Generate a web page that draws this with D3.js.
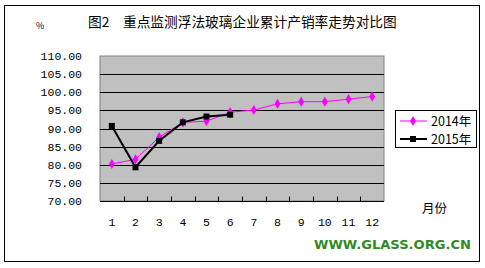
<!DOCTYPE html>
<html>
<head>
<meta charset="utf-8">
<script src="https://d3js.org/d3.v7.min.js"></script>
<style>
  body { margin: 0; background: #fff; }
  svg text { font-family: "Noto Sans CJK SC", "DejaVu Sans", sans-serif; }
</style>
</head>
<body>
<div id="chart"></div>
<script>
    // values
    var months = ["1", "2", "3", "4", "5", "6", "7", "8", "9", "10", "11", "12"];
    var yTicks = [70, 75, 80, 85, 90, 95, 100, 105, 110];
    var rate2014 = [80.2, 81.5, 87.6, 91.7, 92.0, 94.5, 95.1, 96.8, 97.4, 97.4, 98.1, 98.8];
    var rate2015 = [90.7, 79.3, 86.6, 91.7, 93.3, 93.8];
    var seriesNames = ["2014年", "2015年"];

    var width = 485, height = 268;
    var plot = {left: 100, right: 384, top: 56, bottom: 201};

    const svg = d3.select("#chart").append("svg")
        .attr("width", width)
        .attr("height", height);

    // outer frame
    svg.append("rect")
        .attr("x", 4.5).attr("y", 5.5)
        .attr("width", 475).attr("height", 256)
        .attr("fill", "#fff")
        .attr("stroke", "#000");

    var x = d3.scaleBand()
        .domain(months)
        .range([plot.left, plot.right]);

    var y = d3.scaleLinear()
        .domain([70, 110])
        .range([plot.bottom, plot.top]);

    // plot area
    svg.append("rect")
        .attr("x", plot.left).attr("y", plot.top)
        .attr("width", plot.right - plot.left)
        .attr("height", plot.bottom - plot.top)
        .attr("fill", "#c0c0c0")
        .attr("stroke", "#808080");

    // gridlines
    svg.selectAll("line.grid")
        .data(yTicks.slice(1, -1))
        .enter().append("line")
        .attr("x1", plot.left).attr("x2", plot.right)
        .attr("y1", d => Math.round(y(d)) + 0.5)
        .attr("y2", d => Math.round(y(d)) + 0.5)
        .attr("stroke", "#000");

    // y labels
    svg.selectAll("text.ylab")
        .data(yTicks)
        .enter().append("text")
        .attr("x", 82)
        .attr("y", d => y(d) + 4)
        .attr("text-anchor", "end")
        .style("font-family", "'Liberation Mono', monospace")
        .attr("font-size", "11.5px")
        .text(d => d.toFixed(2));

    // x axis with ticks between categories
    const xAxis = svg.append("g")
        .attr("transform", `translate(0,${plot.bottom + 0.5})`);
    xAxis.append("line")
        .attr("x1", plot.left).attr("x2", plot.right)
        .attr("stroke", "#000");
    xAxis.selectAll("line.tick")
        .data(months.slice(1))
        .enter().append("line")
        .attr("x1", d => Math.round(x(d)) + 0.5)
        .attr("x2", d => Math.round(x(d)) + 0.5)
        .attr("y1", -5).attr("y2", 0)
        .attr("stroke", "#000");
    xAxis.selectAll("text")
        .data(months)
        .enter().append("text")
        .attr("x", d => x(d) + x.bandwidth() / 2)
        .attr("y", 24)
        .attr("text-anchor", "middle")
        .style("font-family", "'Liberation Mono', monospace")
        .attr("font-size", "11.5px")
        .text(d => d);

    var cx = (d, i) => x(months[i]) + x.bandwidth() / 2;
    var line = d3.line().x(cx).y(d => y(d));

    // 2014 series
    svg.append("path")
        .datum(rate2014)
        .attr("d", line)
        .attr("fill", "none")
        .attr("stroke", "#ff00ff")
        .attr("stroke-width", 1);
    svg.selectAll("path.m2014")
        .data(rate2014)
        .enter().append("path")
        .attr("d", d3.symbol(d3.symbolDiamond, 30))
        .attr("transform", (d, i) => `translate(${cx(d, i)},${y(d)})`)
        .attr("fill", "#ff00ff");

    // 2015 series
    svg.append("path")
        .datum(rate2015)
        .attr("d", line)
        .attr("fill", "none")
        .attr("stroke", "#000")
        .attr("stroke-width", 2);
    svg.selectAll("rect.m2015")
        .data(rate2015)
        .enter().append("rect")
        .attr("x", (d, i) => cx(d, i) - 3)
        .attr("y", d => y(d) - 3)
        .attr("width", 6).attr("height", 6)
        .attr("fill", "#000");

    // legend
    const legend = svg.append("g");
    legend.append("rect")
        .attr("x", 395.5).attr("y", 110.5)
        .attr("width", 81).attr("height", 37)
        .attr("fill", "#fff")
        .attr("stroke", "#000");
    [121, 139].forEach(function (ly, i) {
        legend.append("line")
            .attr("x1", 400).attr("x2", 427)
            .attr("y1", ly).attr("y2", ly)
            .attr("stroke", i ? "#000" : "#ff00ff")
            .attr("stroke-width", i ? 2 : 1);
        if (i) {
            legend.append("rect")
                .attr("x", 410).attr("y", ly - 3)
                .attr("width", 6).attr("height", 6)
                .attr("fill", "#000");
        } else {
            legend.append("path")
                .attr("d", d3.symbol(d3.symbolDiamond, 30))
                .attr("transform", `translate(413,${ly})`)
                .attr("fill", "#ff00ff");
        }
        legend.append("text")
            .attr("x", 431).attr("y", ly + 5)
            .attr("font-size", "12.5px")
            .text(seriesNames[i]);
    });

    // titles
    svg.append("text")
        .attr("x", 88).attr("y", 27)
        .attr("font-size", "13.7px")
        .text("图2　重点监测浮法玻璃企业累计产销率走势对比图");
    svg.append("text")
        .attr("x", 36).attr("y", 29)
        .attr("font-size", "9px")
        .text("%");
    svg.append("text")
        .attr("x", 422).attr("y", 213)
        .attr("font-size", "12.5px")
        .text("月份");
    svg.append("text")
        .attr("x", 314).attr("y", 249)
        .attr("textLength", 157)
        .attr("lengthAdjust", "spacingAndGlyphs")
        .style("font-family", "'DejaVu Sans', sans-serif")
        .attr("font-weight", "bold")
        .attr("font-size", "11.5px")
        .attr("fill", "#2e8b22")
        .text("WWW.GLASS.ORG.CN");
</script>
</body>
</html>
